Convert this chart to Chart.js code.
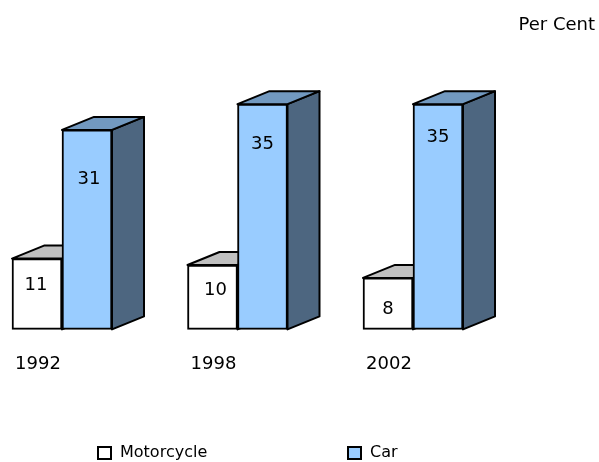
<!DOCTYPE html>
<html>
<head>
<meta charset="utf-8">
<title>Per Cent</title>
<script src="https://cdn.jsdelivr.net/npm/chart.js@4/dist/chart.umd.min.js"></script>
<style>
  html, body { margin: 0; padding: 0; background: #fff; }
  canvas { display: block; }
</style>
</head>
<body>
<canvas id="chart" width="599" height="462"></canvas>
<script>
const years = ['1992', '1998', '2002'];
const motorcycle = [11, 10, 8];
const car = [31, 35, 35];
const seriesNames = ['Motorcycle', 'Car'];

// where each bar's number sits, relative to the bar's top centre
const motorcycleLabelDrop = [27, 25, 31];
const carLabelDrop = [49, 40, 33];
const motorcycleLabelNudge = [-1, 3, 0];
const carLabelNudge = [2, 0, 0];

const FONT = '"DejaVu Sans", sans-serif';
const DEPTH_X = 32;
const DEPTH_Y = 13;

const faceColors = [
    { front: '#ffffff', top: '#c0c0c0', side: '#808080' },
    { front: '#99ccff', top: '#7299c0', side: '#4d6680' }
];

function face(ctx, points, fill) {
    ctx.beginPath();
    points.forEach(([x, y], i) => (i ? ctx.lineTo(x, y) : ctx.moveTo(x, y)));
    ctx.closePath();
    ctx.fillStyle = fill;
    ctx.fill();
    ctx.stroke();
}

// top and side faces go down first, the flat bars are painted over them.
// Motorcycle first so the car boxes hide its far side.
const boxFaces = {
    id: 'boxFaces',
    beforeDatasetsDraw(chart) {
        const { ctx } = chart;
        ctx.save();
        ctx.strokeStyle = '#000';
        ctx.lineWidth = 2;
        ctx.lineJoin = 'round';
        chart.data.datasets.forEach((ds, d) => {
            const colors = faceColors[d];
            chart.getDatasetMeta(d).data.forEach(bar => {
                const left = bar.x - bar.width / 2;
                const right = bar.x + bar.width / 2;
                face(ctx, [[right, bar.y], [right + DEPTH_X, bar.y - DEPTH_Y], [right + DEPTH_X, bar.base - DEPTH_Y], [right, bar.base]], colors.side);
                face(ctx, [[left, bar.y], [left + DEPTH_X, bar.y - DEPTH_Y], [right + DEPTH_X, bar.y - DEPTH_Y], [right, bar.y]], colors.top);
            });
        });
        ctx.restore();
    }
};

// numbers on the bars, the legend row and the unit in the corner
const annotations = {
    id: 'annotations',
    afterDatasetsDraw(chart) {
        const { ctx } = chart;
        const drops = [motorcycleLabelDrop, carLabelDrop];
        const nudges = [motorcycleLabelNudge, carLabelNudge];
        ctx.save();
        ctx.fillStyle = '#000';
        ctx.textBaseline = 'middle';

        ctx.font = '18px ' + FONT;
        ctx.textAlign = 'center';
        chart.data.datasets.forEach((ds, d) => {
            chart.getDatasetMeta(d).data.forEach((bar, i) => {
                ctx.fillText(ds.data[i], bar.x + nudges[d][i], bar.y + drops[d][i]);
            });
        });

        ctx.textAlign = 'right';
        ctx.fillText('Per Cent', 595, 25);

        ctx.font = '16px ' + FONT;
        ctx.textAlign = 'left';
        [98, 348].forEach((x, i) => {
            ctx.lineWidth = 2;
            ctx.strokeStyle = '#000';
            ctx.fillStyle = faceColors[i].front;
            ctx.fillRect(x, 447, 13, 12);
            ctx.strokeRect(x, 447, 13, 12);
            ctx.fillStyle = '#000';
            ctx.fillText(seriesNames[i], x + 22, 453);
        });
        ctx.restore();
    }
};

new Chart(document.getElementById('chart'), {
    type: 'bar',
    data: {
        labels: years,
        datasets: [
            { label: seriesNames[0], data: motorcycle, backgroundColor: faceColors[0].front },
            { label: seriesNames[1], data: car, backgroundColor: faceColors[1].front }
        ].map(ds => ({ ...ds, barThickness: 50, borderColor: '#000', borderWidth: 2, borderSkipped: false, clip: false }))
    },
    options: {
        responsive: false,
        animation: false,
        layout: { padding: { left: 62, right: 186, top: 72, bottom: 71 } },
        plugins: { legend: { display: false }, title: { display: false }, tooltip: { enabled: false } },
        scales: {
            x: {
                offset: false,
                grid: { display: false },
                border: { display: false },
                ticks: {
                    color: '#000',
                    font: { family: FONT, size: 18 },
                    padding: 16,
                    labelOffset: -24,
                    maxRotation: 0
                }
            },
            y: { display: false, min: 0, max: 40 }
        }
    },
    plugins: [boxFaces, annotations]
});
</script>
</body>
</html>
